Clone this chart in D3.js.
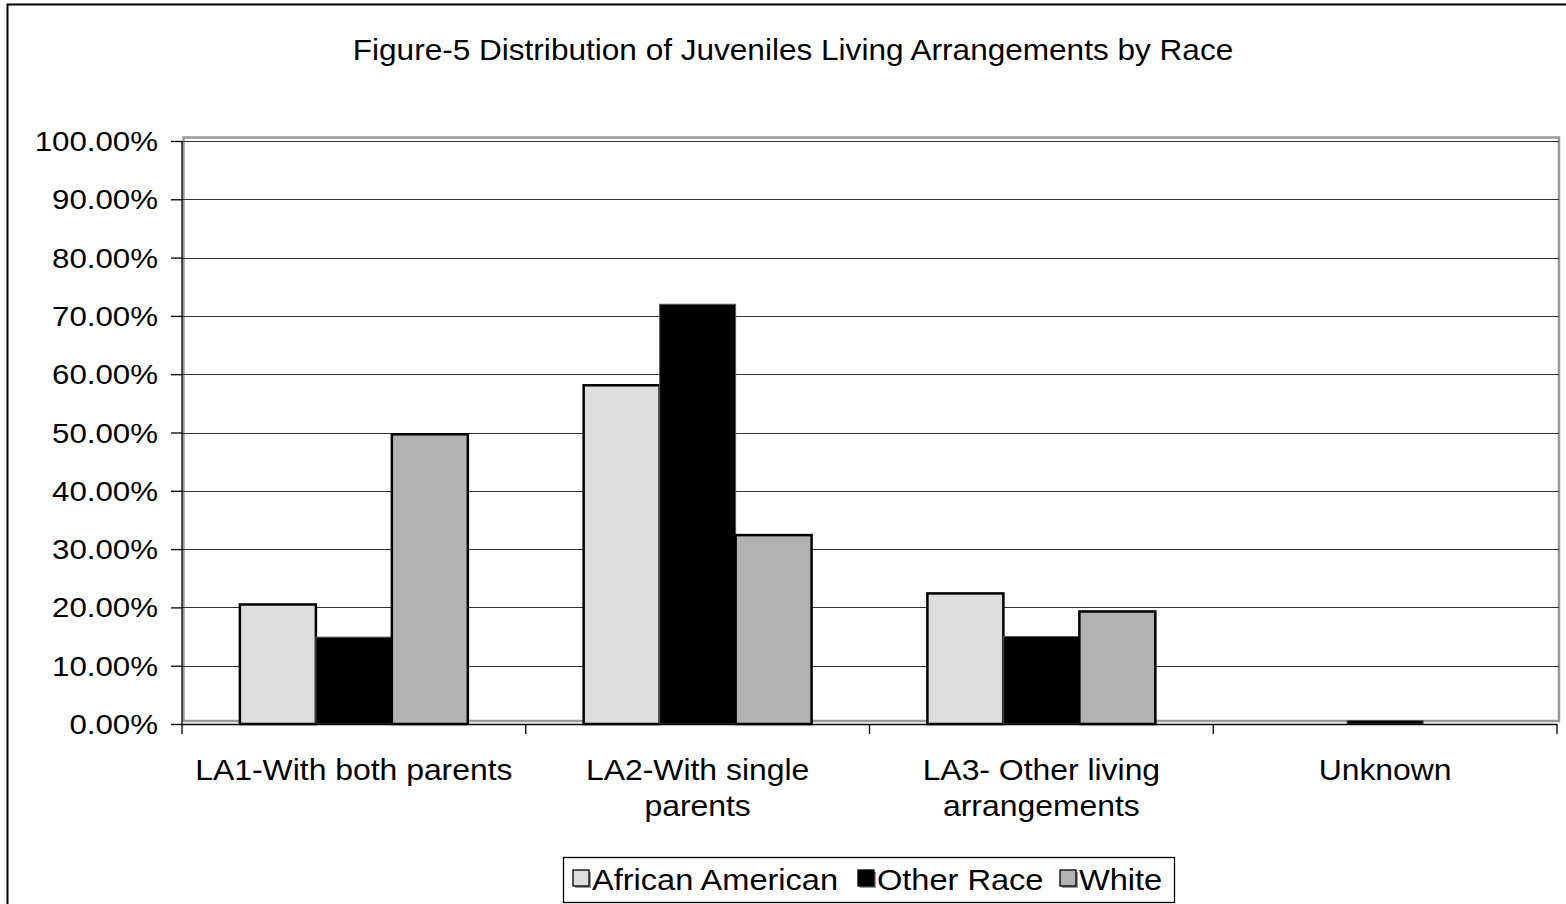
<!DOCTYPE html>
<html><head><meta charset="utf-8">
<script src="https://cdn.jsdelivr.net/npm/d3@7"></script>
<style>body{margin:0;background:#fff}svg{display:block}text{font-family:"Liberation Sans",Arial,sans-serif;fill:#000}</style>
</head><body><svg id="c" width="1566" height="904"></svg>
<script>
const categories = [["LA1-With both parents"],["LA2-With single","parents"],["LA3- Other living","arrangements"],["Unknown"]];
const seriesNames = ["African American","Other Race","White"];
const seriesColors = ["#dddddd","#000000","#b2b2b2"];
const africanAmerican = [0.205, 0.581, 0.224, 0.0];
const otherRace = [0.149, 0.720, 0.150, 0.006];
const white = [0.497, 0.324, 0.193, 0.0];
const yTicks = [0,0.1,0.2,0.3,0.4,0.5,0.6,0.7,0.8,0.9,1.0];
const title = "Figure-5 Distribution of Juveniles Living Arrangements by Race";

const series = [africanAmerican, otherRace, white];
const svg = d3.select("#c");
const SX = 1.1;

// outer frame
svg.append("path").attr("d","M7.5,904 V4.5 H1566").attr("fill","none").attr("stroke","#000").attr("stroke-width",2);

const x0 = d3.scaleBand().domain(d3.range(categories.length)).range([182,1557]).paddingInner(0).paddingOuter(0);
const x1 = d3.scaleBand().domain(d3.range(series.length)).range([0,x0.bandwidth()]).paddingInner(0).paddingOuter(0.762);
const y = d3.scaleLinear().domain([0,1]).range([724,141]);

// plot area border (gray)
svg.append("rect").attr("x",183.5).attr("y",137.5).attr("width",1559-183.5).attr("height",721-137.5)
  .attr("fill","none").attr("stroke","#999").attr("stroke-width",2.5);

// gridlines
svg.append("g").selectAll("line").data(yTicks.slice(1)).join("line")
  .attr("x1",182).attr("x2",1559).attr("y1",d=>Math.round(y(d))+0.5).attr("y2",d=>Math.round(y(d))+0.5)
  .attr("stroke","#333").attr("stroke-width",1.2);

// y axis
const yAxis = d3.axisLeft(y).tickValues(yTicks).tickSize(11).tickFormat(d=>"");
const ya = svg.append("g").attr("transform","translate(182,0)").call(yAxis);
ya.selectAll("path,line").attr("stroke","#000").attr("stroke-width",1.3);
ya.select(".domain").attr("d","M0,141V724");
svg.append("g").selectAll("g").data(yTicks).join("g")
  .attr("transform",d=>`translate(158,${y(d)+10}) scale(${SX},1)`)
  .append("text").attr("text-anchor","end").attr("font-size",28.4).text(d=>d3.format(".2%")(d));

// bars
const g = svg.append("g");
series.forEach((vals,si)=>{
  g.selectAll(null).data(vals).join("rect")
    .attr("x",(d,i)=>x0(i)+x1(si))
    .attr("y",d=>y(d))
    .attr("width",x1.bandwidth())
    .attr("height",d=>Math.max(0,y(0)-y(d)))
    .attr("fill",seriesColors[si])
    .attr("stroke",si===1?"#555":"#000").attr("stroke-width",si===1?1:2.5)
    .attr("display",d=>d>0?null:"none");
});

// x axis
const xa = svg.append("g").attr("transform","translate(0,724)");
xa.append("line").attr("x1",182).attr("x2",1557).attr("y1",0.5).attr("y2",0.5).attr("stroke","#000").attr("stroke-width",1.3);
xa.selectAll("line.t").data(d3.range(categories.length+1)).join("line").attr("class","t")
  .attr("x1",i=>182+i*x0.step()).attr("x2",i=>182+i*x0.step()).attr("y1",0).attr("y2",10)
  .attr("stroke","#000").attr("stroke-width",1.3);
categories.forEach((lines,i)=>{
  lines.forEach((ln,j)=>{
    svg.append("g").attr("transform",`translate(${x0(i)+x0.bandwidth()/2},${780+j*36}) scale(${SX},1)`)
      .append("text").attr("text-anchor","middle").attr("font-size",29).text(ln);
  });
});

// title
svg.append("g").attr("transform",`translate(793,60) scale(${SX},1)`)
  .append("text").attr("text-anchor","middle").attr("font-size",28.7).text(title);

// legend
const lg = svg.append("g");
lg.append("rect").attr("x",563.5).attr("y",857.5).attr("width",611).attr("height",45).attr("fill","#fff").attr("stroke","#000").attr("stroke-width",1.3);
const legX = [573,858,1060];
seriesNames.forEach((n,i)=>{
  lg.append("rect").attr("x",legX[i]+2).attr("y",872).attr("width",16).attr("height",16).attr("fill","#999");
  lg.append("rect").attr("x",legX[i]).attr("y",870).attr("width",16).attr("height",16).attr("fill",seriesColors[i]).attr("stroke","#000").attr("stroke-width",1.3);
  lg.append("g").attr("transform",`translate(${legX[i]+19},890) scale(${SX},1)`)
    .append("text").attr("font-size",29.6).text(n);
});
</script></body></html>
